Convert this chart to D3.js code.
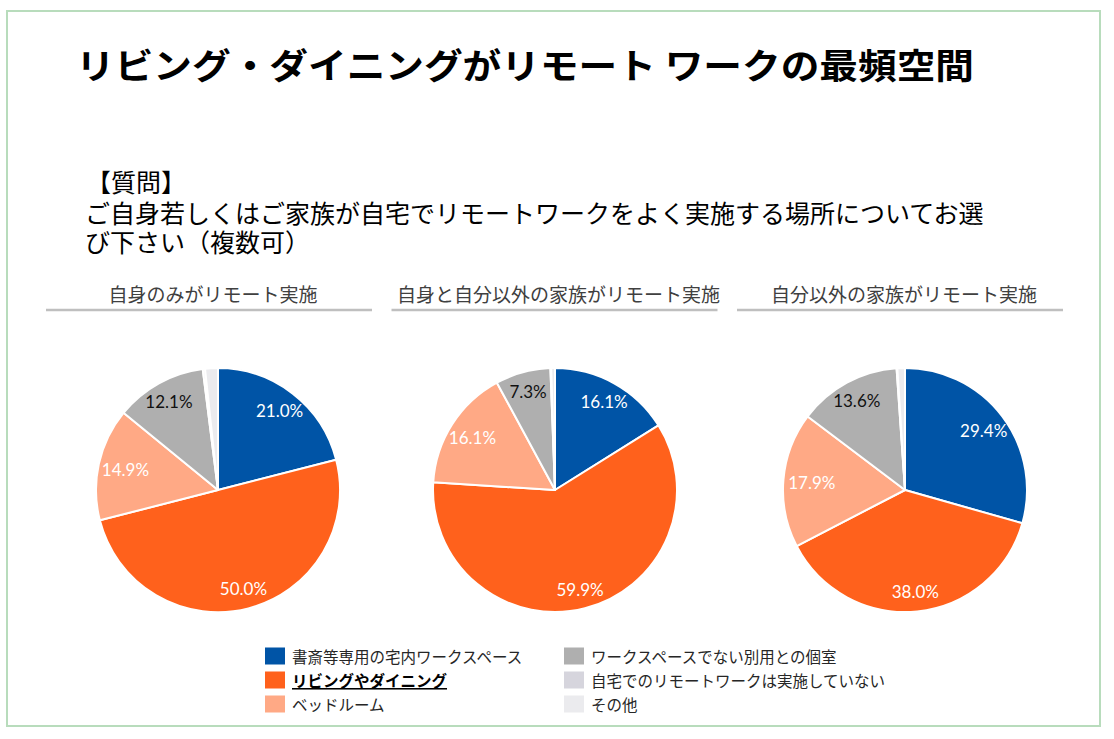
<!DOCTYPE html>
<html><head><meta charset="utf-8">
<script src="https://cdn.jsdelivr.net/npm/d3@7"></script>
<style>
html,body{margin:0;padding:0;background:#fff;}
svg{display:block;}
</style></head>
<body>
<svg id="c" width="1114" height="739"></svg>
<script>
const titleText = "リビング・ダイニングがリモート ワークの最頻空間";
const questionLines = ["【質問】", "ご自身若しくはご家族が自宅でリモートワークをよく実施する場所についてお選", "び下さい（複数可）"];
const categories = ["書斎等専用の宅内ワークスペース", "リビングやダイニング", "ベッドルーム", "ワークスペースでない別用との個室", "自宅でのリモートワークは実施していない", "その他"];
const colors = ["#0054a6", "#ff611c", "#ffa985", "#afafaf", "#d6d5dd", "#ebebee"];
const groups = ["自身のみがリモート実施", "自身と自分以外の家族がリモート実施", "自分以外の家族がリモート実施"];
const seriesA = [21.0, 50.0, 14.9, 12.1, 0.3, 1.7];
const seriesB = [16.1, 59.9, 16.1, 7.3, 0.1, 0.5];
const seriesC = [29.4, 38.0, 17.9, 13.6, 0.1, 1.0];
const series = [seriesA, seriesB, seriesC];
const labelMin = 5; // only label slices >= this %
const labelColors = ["#fff", "#fff", "#fff", "#111", "#111", "#111"];

const svg = d3.select("#c");
const CJK = "'Noto Sans CJK JP','Noto Sans',sans-serif";

// frame
svg.append("rect").attr("x", 7).attr("y", 11).attr("width", 1093).attr("height", 715)
  .attr("fill", "none").attr("stroke", "#b8dcbc").attr("stroke-width", 2);

// title
svg.append("text").attr("x", 76).attr("y", 63).attr("dominant-baseline", "central")
  .attr("font-family", CJK).attr("font-weight", 700).attr("font-size", 35)
  .attr("textLength", 898).attr("lengthAdjust", "spacingAndGlyphs")
  .attr("fill", "#000").text(titleText);

// question (one text block, three lines)
const qY = [183, 214, 243];
const qX = [86, 85, 85];
const qText = svg.append("text").attr("font-family", CJK).attr("font-size", 25).attr("fill", "#000");
questionLines.forEach((t, i) => {
  qText.append("tspan").attr("x", qX[i]).attr("y", qY[i] + 9).text(t);
});

// pies
const xCenter = d3.scaleOrdinal().domain(groups).range([218, 555, 905]);
const xHeader = d3.scalePoint().domain(groups).range([209, 900]);
const r = 122;
const pie = d3.pie().sort(null).value(d => d);
const arc = d3.arc().innerRadius(0).outerRadius(r);
const cy = 490;

groups.forEach((g, gi) => {
  const cx = xCenter(g);
  const hx = xHeader(g);
  // subtitle
  svg.append("text").attr("x", hx + 4).attr("y", 293).attr("text-anchor", "middle")
    .attr("dominant-baseline", "central").attr("font-family", CJK).attr("font-size", 19)
    .attr("fill", "#404040").text(g);
  svg.append("line").attr("x1", hx - 163).attr("x2", hx + 163)
    .attr("y1", 310).attr("y2", 310).attr("stroke", "#bfbfbf").attr("stroke-width", 2.5);

  const gEl = svg.append("g").attr("transform", `translate(${cx},${cy})`);
  const arcs = pie(series[gi]);
  gEl.selectAll("path").data(arcs).enter().append("path")
    .attr("d", arc).attr("fill", (d, i) => colors[i])
    .attr("stroke", "#fff").attr("stroke-width", 2).attr("stroke-linejoin", "round");
  gEl.selectAll("text").data(arcs.filter(d => d.data >= labelMin)).enter().append("text")
    .attr("transform", d => {
      const a = (d.startAngle + d.endAngle) / 2;
      const k = r * (0.76 + 0.08 * Math.abs(Math.cos(a)));
      return `translate(${Math.sin(a) * k},${-Math.cos(a) * k})`;
    })
    .attr("text-anchor", "middle").attr("dominant-baseline", "central")
    .attr("font-family", "Lato, 'Open Sans', sans-serif").attr("font-size", 17)
    .attr("fill", d => labelColors[d.index])
    .text(d => d.data.toFixed(1) + "%");
});

// legend
const legX = [265, 564];
const legY = [656, 680, 704];
categories.forEach((c, i) => {
  const col = Math.floor(i / 3), row = i % 3;
  const gx = legX[col], gy = legY[row];
  svg.append("rect").attr("x", gx).attr("y", gy - 8.5).attr("width", 20).attr("height", 17)
    .attr("fill", colors[i]);
  const t = svg.append("text").attr("x", gx + 27).attr("y", gy).attr("dominant-baseline", "central")
    .attr("font-family", CJK).attr("font-size", 15.5).attr("fill", "#262626").text(c);
  if (i === 1) t.attr("font-weight", 700).attr("text-decoration", "underline").attr("fill", "#000");
});
</script>
</body></html>
